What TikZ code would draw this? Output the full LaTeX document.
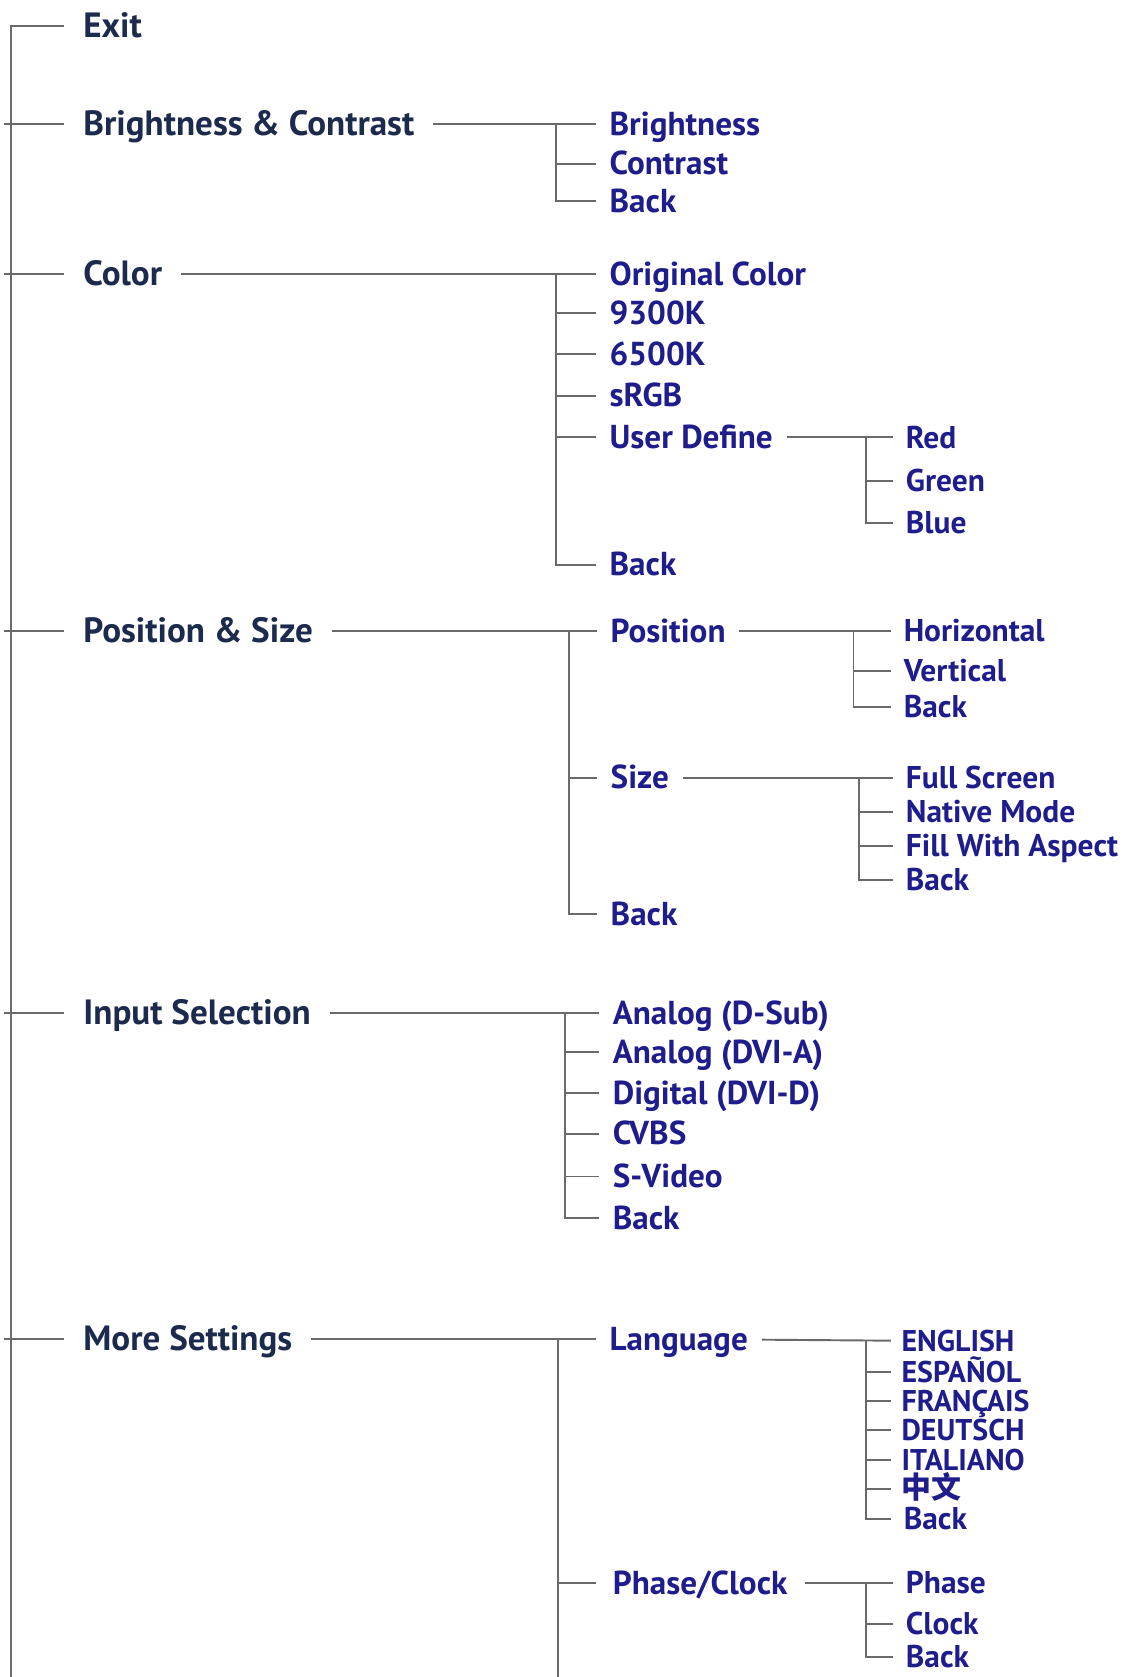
\documentclass[tikz,border=0pt]{standalone}
\usepackage{fontspec}
\setmainfont{PT Sans}
\newfontfamily\cjkfont{Noto Sans CJK SC}

\definecolor{menunavy}{HTML}{1C2B4D}
\definecolor{itemblue}{HTML}{1F1C8C}
\definecolor{treegray}{HTML}{6A6A6A}

\tikzset{
  menu/.style={anchor=west, inner sep=0pt, outer xsep=9pt, text height=11pt, text depth=0pt, text=menunavy, font=\fontsize{16.4}{19}\selectfont\bfseries},
  item/.style={anchor=west, inner sep=0pt, outer xsep=6.5pt, text height=10.5pt, text depth=0pt, text=itemblue, font=\fontsize{15.5}{18}\selectfont\bfseries},
  leaf/.style={item, outer xsep=6pt, text height=10pt, font=\fontsize{14.7}{17}\selectfont\bfseries},
  small item/.style={item, outer xsep=5pt, text height=9.5pt, font=\fontsize{14}{15}\selectfont\bfseries},
  tree/.style={draw=treegray, line width=0.9pt},
}

\begin{document}
\begin{tikzpicture}[x=0.5pt, y=-0.5pt]
  \useasboundingbox (0,0) rectangle (1057,1568);
  % Nodes
  \node (exit) [menu] at (60,24) {Exit};
  \node (bright) [menu] at (60,116) {Brightness \& Contrast};
  \node (color) [menu] at (60,256) {Color};
  \node (possize) [menu] at (60,590) {Position \& Size};
  \node (input) [menu] at (60,947) {Input Selection};
  \node (more) [menu] at (60,1252) {More Settings};

  \node (bright-1) [item] at (557,116) {Brightness};
  \node (bright-2) [item] at (557,153) {Contrast};
  \node (bright-3) [item] at (557,188) {Back};

  \node (color-1) [item] at (557,256) {Original Color};
  \node (color-2) [item] at (557,293) {9300K};
  \node (color-3) [item] at (557,331) {6500K};
  \node (color-4) [item] at (557,370) {sRGB};
  \node (color-5) [item] at (557,409) {User Define};
  \node (color-6) [item] at (557,528) {Back};

  \node (user-1) [leaf] at (835,409) {Red};
  \node (user-2) [leaf] at (835,450) {Green};
  \node (user-3) [leaf] at (835,489) {Blue};

  \node (possize-1) [item] at (558,590) {Position};
  \node (possize-2) [item] at (558,727) {Size};
  \node (possize-3) [item] at (558,855) {Back};

  \node (pos-1) [leaf] at (833,590) {Horizontal};
  \node (pos-2) [leaf] at (833,627) {Vertical};
  \node (pos-3) [leaf] at (833,661) {Back};

  \node (size-1) [leaf] at (835,727) {Full Screen};
  \node (size-2) [leaf] at (835,759) {Native Mode};
  \node (size-3) [leaf] at (835,791) {Fill With Aspect};
  \node (size-4) [leaf] at (835,823) {Back};

  \node (input-1) [item] at (560,947) {Analog (D-Sub)};
  \node (input-2) [item] at (560,984) {Analog (DVI-A)};
  \node (input-3) [item] at (560,1022) {Digital (DVI-D)};
  \node (input-4) [item] at (560,1060) {CVBS};
  \node (input-5) [item] at (560,1100) {S-Video};
  \node (input-6) [item] at (560,1139) {Back};

  \node (more-1) [item] at (557,1252) {Language};
  \node (more-2) [item, outer xsep=8pt] at (557,1480) {Phase/Clock};

  \node (lang-1) [small item] at (833,1254) {ENGLISH};
  \node (lang-2) [small item] at (833,1283) {ESPAÑOL};
  \node (lang-3) [small item] at (833,1310) {FRANÇAIS};
  \node (lang-4) [small item] at (833,1337) {DEUTSCH};
  \node (lang-5) [small item] at (833,1365) {ITALIANO};
  \node (lang-6) [small item] at (833,1392) {\cjkfont 中文};
  \node (lang-7) [leaf] at (833,1420) {Back};

  \node (phase-1) [leaf] at (835,1480) {Phase};
  \node (phase-2) [leaf] at (835,1518) {Clock};
  \node (phase-3) [leaf] at (835,1549) {Back};

  % Bus points
  \coordinate (tick-start) at (4,0);
  \coordinate (spine-end) at (10,1568);
  \coordinate (bright-bus) at (520,116);
  \coordinate (color-bus) at (520,256);
  \coordinate (user-bus) at (810,409);
  \coordinate (possize-bus) at (532,590);
  \coordinate (pos-bus) at (798,590);
  \coordinate (size-bus) at (803,727);
  \coordinate (input-bus) at (528,947);
  \coordinate (more-bus) at (522,1252);
  \coordinate (more-end) at (522,1568);
  \coordinate (lang-bus) at (810,1254);
  \coordinate (phase-bus) at (810,1480);

  % Lines
  \draw[tree] (spine-end) |- (exit);
  \foreach \m in {bright,color,possize,input,more}
    \draw[tree] (tick-start |- \m) -- (\m);
  \foreach \pa/\ki/\nn in {bright/bright/3, color/color/6, color-5/user/3, possize/possize/3, possize-1/pos/3, possize-2/size/4, input/input/6, more-1/lang/7, more-2/phase/3} {
    \draw[tree] (\pa) -- (\ki-1);
    \draw[tree] (\ki-bus) |- (\ki-\nn);
    \foreach \i in {2,...,\nn}
      \draw[tree] (\ki-bus |- \ki-\i) -- (\ki-\i);
  }
  \draw[tree] (more) -- (more-1);
  \draw[tree] (more-bus) -- (more-end);
  \draw[tree] (more-bus |- more-2) -- (more-2);
\end{tikzpicture}
\end{document}
